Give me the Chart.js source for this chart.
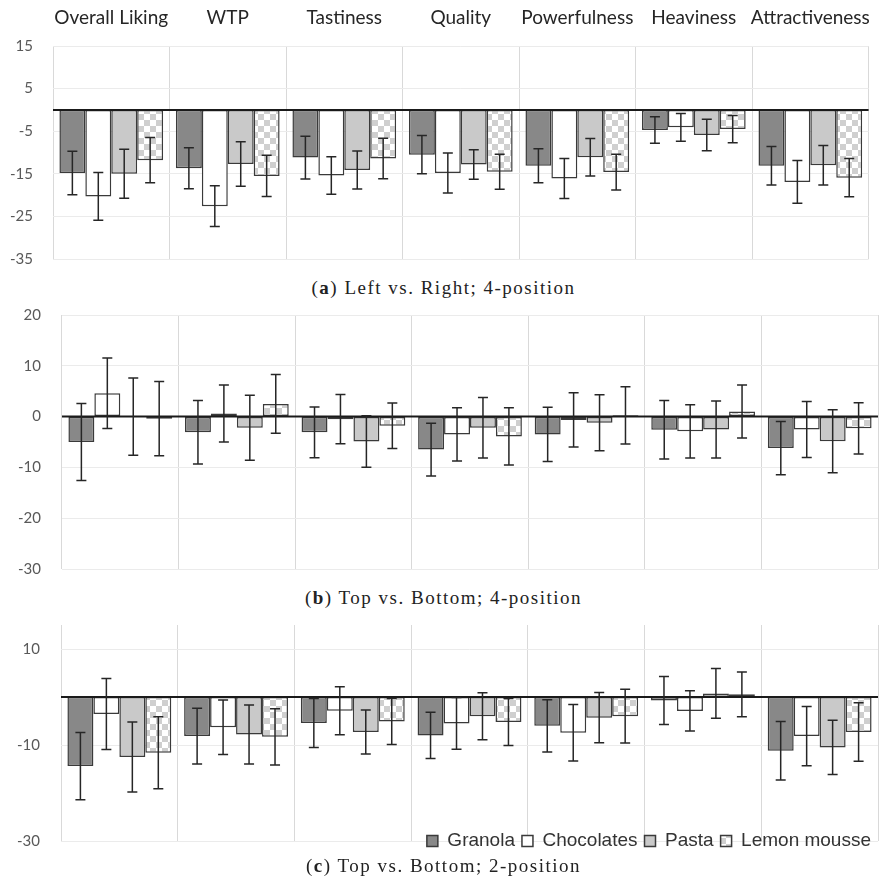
<!DOCTYPE html>
<html>
<head>
<meta charset="utf-8">
<script src="https://cdn.jsdelivr.net/npm/chart.js@4/dist/chart.umd.min.js"></script>
<style>
html,body{margin:0;padding:0;background:#fff;}
#wrap{position:relative;width:887px;height:885px;overflow:hidden;background:#fff;}
.panel{position:absolute;left:0;width:887px;}
.panel canvas{display:block;}
.cap{position:absolute;left:0;width:887px;text-align:center;font-family:"Liberation Serif","Times New Roman",serif;font-size:19px;line-height:19px;letter-spacing:1.5px;color:#222;white-space:nowrap;}
.cap b{font-weight:bold;}
</style>
</head>
<body>
<div id="wrap">
  <div class="panel" style="top:0;height:272px"><canvas id="chartA" width="887" height="272"></canvas></div>
  <div class="cap" style="top:278px">(<b>a</b>) Left vs. Right; 4-position</div>
  <div class="panel" style="top:300px;height:282px"><canvas id="chartB" width="887" height="282"></canvas></div>
  <div class="cap" style="top:588px">(<b>b</b>) Top vs. Bottom; 4-position</div>
  <div class="panel" style="top:610px;height:267px"><canvas id="chartC" width="887" height="267"></canvas></div>
  <div class="cap" style="top:856px">(<b>c</b>) Top vs. Bottom; 2-position</div>
</div>
<script>
// ---------- data ----------
const categories = ['Overall Liking', 'WTP', 'Tastiness', 'Quality', 'Powerfulness', 'Heaviness', 'Attractiveness'];
const seriesNames = ['Granola', 'Chocolates', 'Pasta', 'Lemon mousse'];

const ticksA = [15, 5, -5, -15, -25, -35];
const ticksB = [20, 10, 0, -10, -20, -30];
const ticksC = [10, -10, -30];

// (a) Left vs. Right; 4-position
const granolaA = [-14.8, -13.7, -11.2, -10.5, -13.1, -4.7, -13.1];
const granolaErrA = [5.1, 4.8, 5.0, 4.5, 4.0, 3.1, 4.5];
const chocolatesA = [-20.3, -22.6, -15.4, -14.8, -16.1, -4.1, -16.9];
const chocolatesErrA = [5.6, 4.8, 4.4, 4.7, 4.7, 3.25, 5.0];
const pastaA = [-15.0, -12.7, -14.1, -12.8, -11.1, -5.9, -13.0];
const pastaErrA = [5.75, 5.2, 4.45, 3.45, 4.4, 3.7, 4.65];
const lemonA = [-11.8, -15.5, -11.4, -14.5, -14.6, -4.5, -15.9];
const lemonErrA = [5.3, 4.85, 4.75, 4.1, 4.2, 3.2, 4.5];

// (b) Top vs. Bottom; 4-position
const granolaB = [-5.0, -3.1, -3.1, -6.5, -3.5, -2.6, -6.2];
const granolaErrB = [7.6, 6.25, 5.0, 5.2, 5.35, 5.75, 5.25];
const chocolatesB = [4.6, 0.6, -0.5, -3.5, -0.65, -2.9, -2.55];
const chocolatesErrB = [6.95, 5.6, 4.85, 5.25, 5.35, 5.25, 5.5];
const pastaB = [0.0, -2.2, -4.9, -2.2, -1.2, -2.55, -4.85];
const pastaErrB = [7.6, 6.4, 5.05, 5.95, 5.5, 5.6, 6.2];
const lemonB = [-0.4, 2.5, -1.8, -3.9, 0.25, 1.0, -2.3];
const lemonErrB = [7.3, 5.8, 4.5, 5.65, 5.65, 5.2, 5.05];

// (c) Top vs. Bottom; 2-position
const granolaC = [-14.4, -8.15, -5.4, -8.0, -6.0, -0.75, -11.2];
const granolaErrC = [7.0, 5.8, 5.1, 4.8, 5.45, 5.0, 6.1];
const chocolatesC = [-3.55, -6.3, -2.85, -5.5, -7.45, -2.9, -8.15];
const chocolatesErrC = [7.4, 5.7, 5.0, 5.4, 5.9, 4.2, 6.15];
const pastaC = [-12.5, -7.8, -7.3, -4.0, -4.3, 0.75, -10.5];
const pastaErrC = [7.3, 6.15, 4.6, 4.9, 5.25, 5.2, 5.65];
const lemonC = [-11.6, -8.3, -5.1, -5.2, -4.0, 0.55, -7.3];
const lemonErrC = [7.5, 5.85, 4.8, 4.9, 5.6, 4.65, 6.1];

// ---------- styling ----------
function checkerPattern(ctx) {
  const c = document.createElement('canvas');
  c.width = 12; c.height = 12;
  const g = c.getContext('2d');
  g.fillStyle = '#ffffff'; g.fillRect(0, 0, 12, 12);
  g.fillStyle = '#cfcfcf'; g.fillRect(0, 0, 6, 6); g.fillRect(6, 6, 6, 6);
  return ctx.createPattern(c, 'repeat');
}

function errorBarPlugin(errs) {
  return {
    id: 'errbars',
    afterDatasetsDraw(chart) {
      const ctx = chart.ctx, ys = chart.scales.y, area = chart.chartArea;
      ctx.save();
      const y0 = ys.getPixelForValue(0);
      ctx.strokeStyle = '#1a1a1a';
      ctx.lineWidth = 2;
      ctx.beginPath(); ctx.moveTo(area.left, y0); ctx.lineTo(area.right, y0); ctx.stroke();
      ctx.strokeStyle = '#262626';
      ctx.lineWidth = 1.5;
      chart.data.datasets.forEach((ds, i) => {
        const meta = chart.getDatasetMeta(i);
        meta.data.forEach((bar, j) => {
          const v = ds.data[j], e = errs[i][j];
          const x = bar.x;
          const yt = ys.getPixelForValue(v + e), yb = ys.getPixelForValue(v - e);
          ctx.beginPath();
          ctx.moveTo(x, yt); ctx.lineTo(x, yb);
          ctx.moveTo(x - 5, yt); ctx.lineTo(x + 5, yt);
          ctx.moveTo(x - 5, yb); ctx.lineTo(x + 5, yb);
          ctx.stroke();
        });
      });
      ctx.restore();
    }
  };
}

const legendShift = {
  id: 'legendShift',
  afterLayout(chart) {
    const lg = chart.legend;
    if (!lg || !lg.options.display) return;
    const target = 214.5;
    const dy = target - lg.top;
    lg.top += dy; lg.bottom += dy;
  }
};

function makeChart(id, values, errs, cfg) {
  const canvas = document.getElementById(id);
  const ctx = canvas.getContext('2d');
  const fills = ['#888888', '#ffffff', '#c9c9c9', checkerPattern(ctx)];
  const datasets = seriesNames.map((name, i) => ({
    label: name,
    data: values[i],
    backgroundColor: fills[i],
    borderColor: '#3a3a3a',
    borderWidth: 1.5,
    borderSkipped: false,
    categoryPercentage: 0.89,
    barPercentage: 1.0
  }));
  const tickVals = cfg.ticks;
  return new Chart(ctx, {
    type: 'bar',
    data: { labels: categories, datasets },
    plugins: [errorBarPlugin(errs)].concat(cfg.legend ? [legendShift] : []),
    options: {
      responsive: false,
      animation: false,
      events: [],
      devicePixelRatio: 1,
      layout: { padding: cfg.padding },
      plugins: {
        tooltip: { enabled: false },
        legend: cfg.legend ? {
          display: true,
          position: 'bottom',
          align: 'end',
          labels: {
            boxWidth: 11, boxHeight: 11, padding: 7,
            color: '#333333',
            font: { family: '"Liberation Sans", Arial, sans-serif', size: 19 }
          }
        } : { display: false }
      },
      scales: {
        x: {
          position: cfg.showLabels ? 'top' : 'bottom',
          offset: true,
          grid: { display: true, offset: true, color: '#d9d9d9', lineWidth: 1, drawTicks: false },
          border: { display: false },
          ticks: {
            display: cfg.showLabels,
            autoSkip: false, maxRotation: 0, minRotation: 0,
            padding: 17,
            color: '#262626',
            font: { family: 'Lato, "Open Sans", sans-serif', size: 19 }
          },
          afterFit(scale) { scale.height = cfg.showLabels ? 46 : 0; }
        },
        y: {
          min: cfg.min, max: cfg.max,
          grid: { color: '#ebebeb', lineWidth: 1, drawTicks: false },
          border: { display: false },
          ticks: {
            padding: cfg.tickPad,
            color: '#595959',
            font: { family: 'Lato, "Open Sans", sans-serif', size: 15 }
          },
          afterBuildTicks(scale) { scale.ticks = tickVals.map(v => ({ value: v })); },
          afterFit(scale) {
            scale.width = cfg.axisWidth;
            scale.paddingTop = 0;
            scale.paddingBottom = 0;
          }
        }
      }
    }
  });
}

makeChart('chartA',
  [granolaA, chocolatesA, pastaA, lemonA],
  [granolaErrA, chocolatesErrA, pastaErrA, lemonErrA],
  { ticks: ticksA, min: -35, max: 15, showLabels: true, legend: false,
    axisWidth: 53, tickPad: 20, padding: { left: 0, right: 3, top: 0, bottom: 13 } });

makeChart('chartB',
  [granolaB, chocolatesB, pastaB, lemonB],
  [granolaErrB, chocolatesErrB, pastaErrB, lemonErrB],
  { ticks: ticksB, min: -30, max: 20, showLabels: false, legend: false,
    axisWidth: 62, tickPad: 21, padding: { left: 0, right: 9, top: 15, bottom: 13 } });

makeChart('chartC',
  [granolaC, chocolatesC, pastaC, lemonC],
  [granolaErrC, chocolatesErrC, pastaErrC, lemonErrC],
  { ticks: ticksC, min: -30, max: 15, showLabels: false, legend: true,
    axisWidth: 61, tickPad: 21, padding: { left: 0, right: 9, top: 15, bottom: 0 } });
</script>
</body>
</html>
